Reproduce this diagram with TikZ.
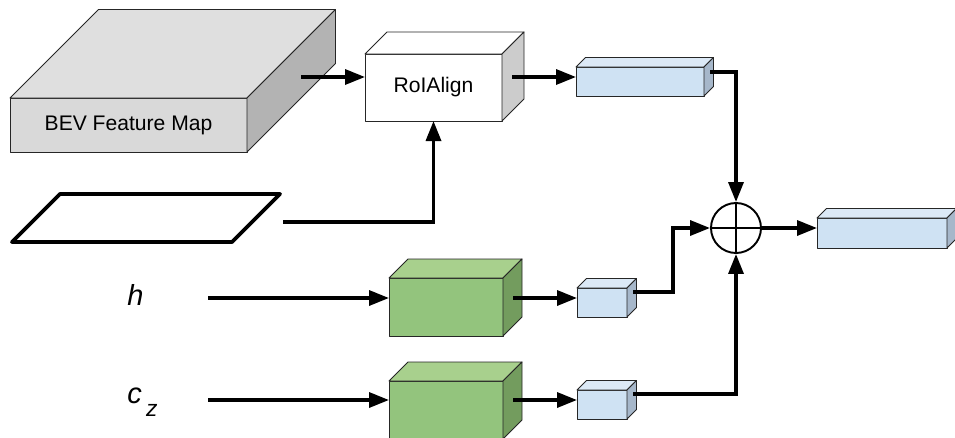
\documentclass[tikz,border=0pt]{standalone}
\usepackage{fontspec}
\setmainfont{Liberation Sans}
\usetikzlibrary{positioning,calc,arrows.meta}

\definecolor{bevfront}{HTML}{D9D9D9}
\definecolor{bevtop}{HTML}{DFDFDF}
\definecolor{bevside}{HTML}{B3B3B3}
\definecolor{roiside}{HTML}{CCCCCC}
\definecolor{featfront}{HTML}{CFE2F3}
\definecolor{feattop}{HTML}{DCE9F6}
\definecolor{featside}{HTML}{A6B7CA}
\definecolor{encfront}{HTML}{93C47D}
\definecolor{enctop}{HTML}{A8D08D}
\definecolor{encside}{HTML}{739C5E}

% top and side faces behind a front-face node: #1 node, #2 depth, #3 top fill, #4 side fill
\newcommand{\cuboid}[4]{%
    \draw[face, fill=#3] (#1.north west) -- ++(#2,#2) -- ($(#1.north east)+(#2,#2)$)
        -- (#1.north east) -- cycle;
    \draw[face, fill=#4] (#1.north east) -- ++(#2,#2) -- ($(#1.south east)+(#2,#2)$)
        -- (#1.south east) -- cycle;
}

\begin{document}
\begin{tikzpicture}[
    font=\fontsize{12}{14}\selectfont,
    face/.style={draw=black!85, line width=0.5pt, line join=round},
    front/.style={face, rectangle, inner sep=0pt, outer sep=0pt},
    ar/.style={-{Triangle[length=0.4cm, width=0.3cm]}, line width=1.9pt},
    lab/.style={font=\fontsize{16.5}{18}\selectfont\itshape, inner sep=0pt,
        anchor=base west},
]
    \clip (0,0) rectangle (19.1,-8.74);

    % ---------- BEV map and RoIAlign ----------
    \node[front, fill=bevfront, minimum width=4.74cm, minimum height=1.08cm]
        (bev) at (2.57,-2.5) {BEV Feature Map};
    \cuboid{bev}{1.77}{bevtop}{bevside}
    \node[front, fill=white, minimum width=2.74cm, minimum height=1.34cm]
        (roi) at (8.67,-1.75) {RoIAlign};
    \cuboid{roi}{0.44}{white}{roiside}

    % box outline on the ground
    \draw[line width=2.2pt, line join=round]
        (0.24,-4.84) -- (4.64,-4.84) -- (5.6,-3.88) -- (1.2,-3.88) -- cycle;

    % ---------- feature bars ----------
    \node[front, fill=featfront, minimum width=2.56cm, minimum height=0.58cm]
        (roifeat) at (12.8,-1.63) {};
    \cuboid{roifeat}{0.19}{feattop}{featside}
    \node[front, fill=featfront, minimum width=2.6cm, minimum height=0.6cm]
        (out) at (17.64,-4.66) {};
    \cuboid{out}{0.19}{feattop}{featside}

    % ---------- encoders for h and c_z ----------
    \node[lab] (hin) at (2.54,-6.1) {h};
    \node[lab] (czin) at (2.54,-8.06)
        {c\kern2.5pt\raisebox{-7.4pt}{\fontsize{13}{14}\selectfont z}};
    \node[front, fill=encfront, minimum width=2.28cm, minimum height=1.16cm]
        (henc) at (8.92,-6.14) {};
    \cuboid{henc}{0.38}{enctop}{encside}
    \node[front, fill=encfront, minimum width=2.28cm, minimum height=1.16cm,
        below=0.9cm of henc] (czenc) {};
    \cuboid{czenc}{0.38}{enctop}{encside}
    \node[front, fill=featfront, minimum width=1cm, minimum height=0.58cm]
        (hfeat) at (12.04,-6.05) {};
    \cuboid{hfeat}{0.19}{feattop}{featside}
    \node[front, fill=featfront, minimum width=1cm, minimum height=0.58cm,
        below=1.46cm of hfeat] (czfeat) {};
    \cuboid{czfeat}{0.19}{feattop}{featside}

    % ---------- sum ----------
    \node[circle, draw, line width=1.1pt, minimum size=1cm, inner sep=0pt,
        path picture={\draw[line width=0.8pt]
            (path picture bounding box.north) -- (path picture bounding box.south)
            (path picture bounding box.west) -- (path picture bounding box.east);}]
        (sum) at (14.72,-4.56) {};

    % ---------- connectors ----------
    \coordinate (bevout) at (6.02,-1.54);
    \coordinate (roiout) at (10.24,-1.54);
    \coordinate (boxout) at (5.66,-4.44);
    \coordinate (hstart) at (4.16,-5.96);
    \coordinate (czstart) at (4.16,-8.0);
    \coordinate (hencout) at (10.26,-5.96);
    \coordinate (czencout) at (10.26,-8.0);
    \coordinate (roifeatout) at (14.2,-1.44);
    \coordinate (hfeatout) at (12.66,-5.84);
    \coordinate (czfeatout) at (12.66,-7.88);

    \draw[ar] (bevout) -- (bevout -| roi.west);
    \draw[ar] (roiout) -- (roiout -| roifeat.west);
    \draw[ar] (boxout) -| (roi.south);
    \draw[ar] (hstart) -- (hstart -| henc.west);
    \draw[ar] (czstart) -- (czstart -| czenc.west);
    \draw[ar] (hencout) -- (hencout -| hfeat.west);
    \draw[ar] (czencout) -- (czencout -| czfeat.west);
    \draw[ar] (roifeatout) -| (sum.north);
    \draw[ar] (hfeatout) -- ++(0.8,0) |- (sum.west);
    \draw[ar] (czfeatout) -| (sum.south);
    \draw[ar] (sum.east) -- (sum.east -| out.west);
\end{tikzpicture}
\end{document}
